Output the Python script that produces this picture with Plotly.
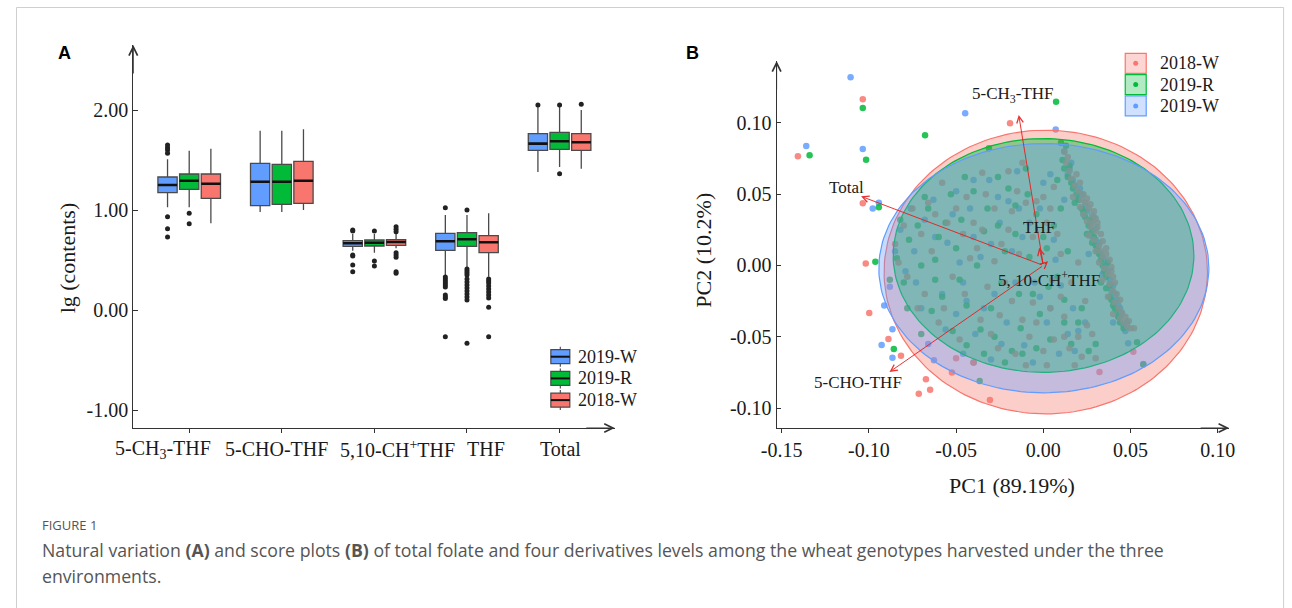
import numpy as np
import plotly.graph_objects as go

W, H = 1292, 608

# ---------------- Panel A data (lg contents) ----------------
categories = ["5-CH3-THF", "5-CHO-THF", "5,10-CH+THF", "THF", "Total"]
cat_labels = ["5-CH<sub>3</sub>-THF", "5-CHO-THF", "5,10-CH<sup>+</sup>THF", "THF", "Total"]

w19_q1 = [1.173, 1.043, 0.637, 0.597, 1.597]
w19_med = [1.250, 1.283, 0.667, 0.687, 1.664]
w19_q3 = [1.330, 1.467, 0.693, 0.767, 1.764]
w19_lo = [1.027, 0.980, 0.593, 0.350, 1.380]
w19_hi = [1.507, 1.793, 0.760, 0.950, 2.030]
w19_out = [[1.650, 1.623, 1.600, 1.567, 0.933, 0.813, 0.730], [],
           [0.800, 0.790, 0.550, 0.540, 0.450, 0.383],
           [1.023, 0.330, 0.310, 0.290, 0.270, 0.250, 0.230, 0.150, 0.130, 0.115, -0.267],
           [2.050]]

r19_q1 = [1.207, 1.057, 0.640, 0.637, 1.607]
r19_med = [1.293, 1.283, 0.673, 0.707, 1.687]
r19_q3 = [1.360, 1.457, 0.700, 0.773, 1.777]
r19_lo = [1.027, 0.980, 0.573, 0.427, 1.430]
r19_hi = [1.593, 1.793, 0.760, 0.950, 2.030]
r19_out = [[0.967, 0.863], [], [0.790, 0.490, 0.440],
           [1.000, 0.410, 0.390, 0.370, 0.350, 0.310, 0.280, 0.250, 0.220, 0.190, 0.160, 0.130, 0.100, -0.333],
           [2.050, 1.363]]

w18_q1 = [1.117, 1.067, 0.647, 0.573, 1.597]
w18_med = [1.263, 1.293, 0.680, 0.677, 1.677]
w18_q3 = [1.360, 1.487, 0.703, 0.743, 1.764]
w18_lo = [0.867, 1.000, 0.617, 0.333, 1.413]
w18_hi = [1.613, 1.807, 0.760, 0.967, 2.000]
w18_out = [[], [], [0.833, 0.807, 0.783, 0.573, 0.550, 0.527, 0.383, 0.367],
           [0.310, 0.290, 0.270, 0.240, 0.210, 0.180, 0.150, 0.120, 0.027, -0.267],
           [2.058]]

# ---------------- Panel B data (PCA scores) ----------------
pts_2018W = [(-0.1035, 0.1165), (-0.1407, 0.0766), (-0.1035, 0.0436), (-0.0191, 0.0997), (-0.1018, 0.0014),
             (-0.0998, -0.0334), (-0.0888, -0.0516), (-0.0816, -0.0634), (-0.0673, -0.0798), (-0.0649, -0.0871),
             (-0.0714, -0.0900), (-0.0306, -0.0944), (-0.0524, -0.0751), (0.0322, -0.0747), (0.0516, -0.0605),
             (-0.080, 0.028), (-0.083, 0.002), (-0.078, -0.008), (-0.070, 0.022), (-0.066, 0.044), (-0.062, 0.036),
             (-0.058, 0.058), (-0.055, 0.030), (-0.052, -0.008), (-0.048, -0.052), (-0.046, 0.022), (-0.044, 0.048),
             (-0.040, 0.030), (-0.040, -0.068), (-0.038, 0.012), (-0.036, -0.038), (-0.033, 0.050), (-0.030, -0.048),
             (-0.028, 0.003), (-0.026, -0.058), (-0.024, 0.015), (-0.022, -0.012), (-0.020, 0.066), (-0.018, 0.038),
             (-0.016, -0.062), (-0.015, 0.052), (-0.012, -0.038), (-0.010, 0.044), (-0.008, -0.050), (-0.006, -0.026),
             (-0.004, 0.045), (0.000, 0.048), (0.000, -0.060), (0.002, -0.070), (0.004, 0.040), (0.005, -0.010),
             (0.006, -0.052), (0.008, 0.022), (0.010, -0.022), (0.012, -0.036), (0.015, -0.058), (0.016, -0.012),
             (0.020, -0.050), (0.022, -0.064), (0.025, -0.042), (-0.060, -0.040), (-0.068, -0.020), (-0.012, 0.072),
             (-0.085, 0.015), (-0.075, 0.040), (-0.072, -0.030), (-0.064, 0.010), (-0.057, -0.030), (-0.050, 0.040),
             (-0.045, -0.020), (-0.042, 0.005), (-0.035, 0.025), (-0.032, -0.015), (-0.028, 0.040), (-0.025, -0.035),
             (-0.020, 0.025), (-0.018, -0.025), (-0.014, 0.008), (-0.010, -0.070), (-0.006, 0.020), (-0.004, -0.040),
             (0.002, 0.030), (0.004, -0.030), (0.006, 0.055), (0.010, 0.008), (0.012, -0.050), (0.018, -0.070),
             (0.020, 0.002), (0.024, -0.025), (0.028, -0.048), (0.030, -0.065), (-0.035, 0.065), (-0.050, -0.065),
             (0.013, 0.072), (0.015, 0.066), (0.016, 0.061), (0.018, 0.056), (0.020, 0.052), (0.017, 0.048),
             (0.022, 0.046), (0.024, 0.044), (0.021, 0.041), (0.026, 0.040), (0.023, 0.036), (0.028, 0.035),
             (0.025, 0.031), (0.027, 0.027), (0.030, 0.024), (0.026, 0.021), (0.029, 0.018), (0.032, 0.014),
             (0.030, 0.010), (0.034, 0.006), (0.032, 0.002), (0.035, -0.002), (0.037, -0.006), (0.034, -0.010),
             (0.038, -0.013), (0.040, -0.018), (0.037, -0.022), (0.041, -0.026), (0.043, -0.030), (0.040, -0.034),
             (0.044, -0.037), (0.046, -0.040), (0.048, -0.043), (0.050, -0.044), (0.036, 0.012), (0.031, 0.030),
             (0.039, -0.004), (0.012, 0.080), (0.014, 0.076), (0.019, 0.064), (0.021, 0.058), (0.023, 0.050),
             (0.025, 0.047), (0.027, 0.043), (0.029, 0.038), (0.030, 0.033), (0.031, 0.027), (0.033, 0.022),
             (0.034, 0.017), (0.036, 0.008), (0.038, 0.004), (0.039, -0.001), (0.040, -0.008), (0.041, -0.012),
             (0.042, -0.020), (0.044, -0.024), (0.045, -0.033), (0.047, -0.036), (0.049, -0.039), (0.052, -0.044),
             (0.028, 0.030), (0.033, 0.010)]

pts_2019R = [(-0.1035, 0.1105), (-0.1340, 0.0773), (-0.1016, 0.0742), (-0.0678, 0.0913), (0.0073, 0.1149),
             (-0.0943, 0.0408), (-0.0963, 0.0026), (-0.0857, -0.0586), (-0.0365, -0.0810), (0.0537, -0.0539),
             (0.0573, -0.0695), (0.0101, 0.0861), (-0.0312, 0.0822),
             (-0.088, -0.010), (-0.080, -0.012), (-0.077, 0.018), (-0.072, 0.028), (-0.066, 0.040), (-0.062, 0.004),
             (-0.058, -0.022), (-0.053, 0.050), (-0.050, 0.012), (-0.047, 0.032), (-0.044, -0.028), (-0.040, 0.052),
             (-0.036, -0.045), (-0.034, 0.024), (-0.030, -0.030), (-0.026, 0.062), (-0.024, -0.012), (-0.020, 0.054),
             (-0.018, -0.060), (-0.016, 0.022), (-0.013, -0.044), (-0.010, 0.068), (-0.008, 0.006), (-0.006, -0.020),
             (-0.004, 0.036), (-0.002, -0.034), (0.002, 0.012), (0.004, -0.052), (0.006, 0.028), (0.008, -0.008),
             (0.010, 0.040), (0.012, -0.024), (0.014, 0.010), (-0.052, -0.046), (-0.044, -0.056), (-0.034, -0.062),
             (-0.022, -0.068), (-0.012, -0.062), (-0.064, -0.032), (-0.070, -0.048), (0.020, -0.040), (0.026, -0.060),
             (0.030, -0.055), (-0.082, 0.032), (-0.060, 0.020),
             (-0.084, 0.005), (-0.078, -0.030), (-0.070, 0.000), (-0.068, 0.048), (-0.062, -0.010), (-0.056, 0.030),
             (-0.048, -0.010), (-0.045, 0.062), (-0.038, 0.000), (-0.032, 0.040), (-0.028, -0.050), (-0.022, 0.010),
             (-0.016, 0.042), (-0.014, -0.020), (-0.009, 0.050), (-0.004, -0.058), (0.000, 0.020), (0.003, -0.015),
             (0.008, 0.060), (0.012, -0.040), (0.016, -0.055), (0.022, -0.030), (-0.040, -0.068), (-0.026, 0.028),
             (0.011, 0.074), (0.012, 0.068), (0.014, 0.062), (0.016, 0.058), (0.019, 0.050), (0.018, 0.044),
             (0.022, 0.040), (0.024, 0.034), (0.026, 0.028), (0.025, 0.022), (0.028, 0.016), (0.031, 0.010),
             (0.033, 0.004), (0.035, -0.004), (0.033, -0.012), (0.036, -0.016), (0.038, -0.022), (0.040, -0.028),
             (0.042, -0.032), (0.044, -0.040), (0.029, 0.020), (0.037, 0.002),
             (0.013, 0.084), (0.015, 0.070), (0.017, 0.054), (0.020, 0.046), (0.023, 0.038), (0.027, 0.032),
             (0.028, 0.024), (0.030, 0.014), (0.032, 0.008), (0.034, 0.000), (0.036, -0.008), (0.038, -0.014),
             (0.039, -0.024), (0.041, -0.030), (0.043, -0.036), (0.046, -0.044)]

pts_2019W = [(-0.1105, 0.1320), (-0.1359, 0.0838), (-0.1035, 0.0817), (-0.0448, 0.1067), (0.0071, 0.0954),
             (-0.0943, 0.0440), (-0.0978, 0.0400), (-0.0912, -0.0280), (-0.0865, -0.0447), (-0.0927, -0.0558),
             (-0.0865, -0.0648), (-0.0627, -0.0664), (0.0486, -0.0546), (0.0573, -0.0692),
             (-0.085, 0.010), (-0.079, -0.004), (-0.073, -0.012), (-0.068, 0.032), (-0.063, 0.046), (-0.058, -0.020),
             (-0.055, 0.016), (-0.050, -0.034), (-0.046, -0.012), (-0.042, 0.040), (-0.039, -0.048), (-0.036, 0.006),
             (-0.031, 0.060), (-0.028, -0.020), (-0.025, 0.030), (-0.021, -0.040), (-0.018, 0.010), (-0.015, 0.066),
             (-0.011, -0.056), (-0.008, 0.030), (-0.005, -0.012), (0.000, 0.058), (0.002, -0.040), (0.007, 0.004),
             (0.009, -0.062), (0.012, 0.046), (0.017, -0.030), (0.020, -0.046), (-0.066, -0.055), (-0.046, -0.062),
             (-0.030, -0.066), (-0.014, 0.040), (0.004, 0.064), (-0.040, 0.020), (-0.074, 0.010), (-0.052, 0.036),
             (-0.002, -0.022), (0.010, -0.014),
             (-0.088, -0.015), (-0.082, 0.025), (-0.076, 0.040), (-0.070, -0.030), (-0.062, 0.020), (-0.056, -0.045),
             (-0.050, 0.052), (-0.044, -0.025), (-0.040, 0.060), (-0.034, -0.030), (-0.030, 0.015), (-0.024, -0.055),
             (-0.020, 0.045), (-0.016, -0.012), (-0.012, 0.020), (-0.006, -0.068), (-0.002, 0.040), (0.004, -0.030),
             (0.006, 0.018), (0.014, -0.048), (0.018, -0.060), (0.024, -0.040), (-0.026, 0.048), (-0.048, 0.002),
             (0.016, 0.072), (0.014, 0.064), (0.017, 0.060), (0.021, 0.054), (0.020, 0.046), (0.024, 0.042),
             (0.023, 0.036), (0.027, 0.030), (0.030, 0.026), (0.028, 0.020), (0.031, 0.012), (0.033, 0.008),
             (0.036, 0.000), (0.034, -0.006), (0.038, -0.010), (0.039, -0.018), (0.042, -0.024), (0.044, -0.030),
             (0.043, -0.036), (0.046, -0.042), (0.040, -0.040), (0.026, 0.008),
             (0.012, 0.080), (0.015, 0.068), (0.018, 0.056), (0.022, 0.050), (0.025, 0.038), (0.029, 0.034),
             (0.030, 0.018), (0.032, 0.016), (0.035, 0.004), (0.037, -0.004), (0.040, -0.014), (0.041, -0.020),
             (0.043, -0.028), (0.045, -0.034), (0.048, -0.040), (0.047, -0.046)]

# confidence ellipses: centre x, centre y, semi-axis x, semi-axis y, fill alpha (draw order)
ell_names = ["2018-W", "2019-R", "2019-W"]
ell_cx = [0.0014, 0.0001, 0.0003]
ell_cy = [-0.0046, 0.0070, -0.0019]
ell_a = [0.0927, 0.0862, 0.0946]
ell_b = [0.0995, 0.0820, 0.0874]
ell_alpha = [0.36, 0.42, 0.36]

# loading vectors
load_names = ["5-CH<sub>3</sub>-THF", "Total", "5-CHO-THF", "THF", "5, 10-CH<sup>+</sup>THF"]
load_x = [-0.0141, -0.1045, -0.0882, -0.0024, 0.0027]
load_y = [0.1055, 0.0485, -0.0747, 0.0125, 0.0030]
load_lx = [-0.0175, -0.1130, -0.1061, -0.0023, 0.0035]
load_ly = [0.1196, 0.0544, -0.0822, 0.0263, -0.0098]

COL = {"2019-W": "#619CFF", "2019-R": "#00BA38", "2018-W": "#F8766D"}


def rgba(h, a):
    h = h.lstrip("#")
    return "rgba(%d,%d,%d,%.3f)" % (int(h[0:2], 16), int(h[2:4], 16), int(h[4:6], 16), a)


# screen-pixel -> paper coordinates (horizontal correction measured from the rendered page)
SX, OX = 0.984, 15.6


def PX(x):
    return ((x - OX) / SX) / W


def PY(y):
    return 1 - y / H


SERIF = "Liberation Serif, Times New Roman, serif"
TXT = "#1a1a1a"
fig = go.Figure()

# ---------------- Panel A ----------------
offsets = [-0.234, 0.0, 0.234]
bw = 0.208
series = [("2019-W", w19_q1, w19_med, w19_q3, w19_lo, w19_hi, w19_out),
          ("2019-R", r19_q1, r19_med, r19_q3, r19_lo, r19_hi, r19_out),
          ("2018-W", w18_q1, w18_med, w18_q3, w18_lo, w18_hi, w18_out)]
for k, (name, q1, med, q3, lo, hi, outl) in enumerate(series):
    xs = [i + offsets[k] for i in range(len(categories))]
    fig.add_trace(go.Box(x=xs, q1=q1, median=med, q3=q3, lowerfence=lo, upperfence=hi,
                         name=name, fillcolor=COL[name], line=dict(color="#4a4a4a", width=1.3),
                         width=bw, whiskerwidth=0, boxpoints=False, xaxis="x", yaxis="y",
                         showlegend=False, hoverinfo="skip"))
for k, (name, q1, med, q3, lo, hi, outl) in enumerate(series):
    mx, my = [], []
    for i, m in enumerate(med):
        c = i + offsets[k]
        mx += [c - bw / 2, c + bw / 2, None]
        my += [m, m, None]
    fig.add_trace(go.Scatter(x=mx, y=my, mode="lines", line=dict(color="#111111", width=2.6),
                             showlegend=False, xaxis="x", yaxis="y", hoverinfo="skip"))
    ox, oy = [], []
    for i, vals in enumerate(outl):
        for v in vals:
            ox.append(i + offsets[k])
            oy.append(v)
    fig.add_trace(go.Scatter(x=ox, y=oy, mode="markers", marker=dict(color="#222222", size=5),
                             showlegend=False, xaxis="x", yaxis="y", hoverinfo="skip"))

# ---------------- Panel B ----------------
for name, pts in [("2019-W", pts_2019W), ("2019-R", pts_2019R), ("2018-W", pts_2018W)]:
    fig.add_trace(go.Scatter(x=[p[0] for p in pts], y=[p[1] for p in pts], mode="markers",
                             marker=dict(color=COL[name], size=6.5, opacity=0.85),
                             showlegend=False, xaxis="x2", yaxis="y2", hoverinfo="skip"))
theta = np.linspace(0, 2 * np.pi, 181)
for name, cx, cy, a, b, al in zip(ell_names, ell_cx, ell_cy, ell_a, ell_b, ell_alpha):
    fig.add_trace(go.Scatter(x=cx + a * np.cos(theta), y=cy + b * np.sin(theta), mode="lines",
                             fill="toself", fillcolor=rgba(COL[name], al),
                             line=dict(color=COL[name], width=1.2),
                             showlegend=False, xaxis="x2", yaxis="y2", hoverinfo="skip"))

annotations = []
shapes = []


def note(x, y, text, size, **kw):
    d = dict(x=PX(x), y=PY(y), xref="paper", yref="paper", text=text, showarrow=False,
             xanchor="center", yanchor="middle", font=dict(family=SERIF, size=size, color=TXT))
    d.update(kw)
    annotations.append(d)


# loading arrows
for nm, x, y, lx, ly in zip(load_names, load_x, load_y, load_lx, load_ly):
    annotations.append(dict(x=x, y=y, ax=0, ay=0, xref="x2", yref="y2", axref="x2", ayref="y2",
                            text="", showarrow=True, arrowhead=5, arrowsize=1.3, arrowwidth=1,
                            arrowcolor="rgba(230,30,30,0.9)"))
    annotations.append(dict(x=lx, y=ly, xref="x2", yref="y2", text=nm, showarrow=False,
                            xanchor="center", yanchor="middle",
                            font=dict(family=SERIF, size=17, color=TXT)))

# axis arrowheads
for (x, y, ax, ay) in [(133, 45, 0, 30), (615, 428, -30, 0), (777, 61, 0, 30), (1230, 428, -30, 0)]:
    annotations.append(dict(x=PX(x), y=PY(y), xref="paper", yref="paper", ax=ax, ay=ay,
                            text="", showarrow=True, arrowhead=5, arrowsize=1.7, arrowwidth=1,
                            arrowcolor="#333333"))

# category labels for panel A
for lab, cxp in zip(cat_labels, [163, 276, 397, 486, 561]):
    note(cxp, 449, lab, 20)

# axis titles, panel letters, caption
note(67, 258, "lg (contents)", 22, textangle=-90)
note(704, 250, "PC2 (10.2%)", 22, textangle=-90)
note(1013, 485, "PC1 (89.19%)", 22)
note(64, 53, "<b>A</b>", 18, font=dict(family="Liberation Sans, Arial", size=18, color="#000"))
note(693, 53, "<b>B</b>", 18, font=dict(family="Liberation Sans, Arial", size=18, color="#000"))
note(40, 525, "FIGURE 1", 13, xanchor="left", font=dict(family="Open Sans", size=13, color="#555"))
note(40, 550, "Natural variation <b>(A)</b> and score plots <b>(B)</b> of total folate and four derivatives "
              "levels among the wheat genotypes harvested under the three", 17.7, xanchor="left",
     font=dict(family="Open Sans", size=17.7, color="#555"))
note(40, 576, "environments.", 17.7, xanchor="left", font=dict(family="Open Sans", size=17.7, color="#555"))

# legend of panel A (box icons)
for i, name in enumerate(["2019-W", "2019-R", "2018-W"]):
    yc = 356.7 + 21.7 * i
    shapes.append(dict(type="line", xref="paper", yref="paper", x0=PX(560.5), x1=PX(560.5),
                       y0=PY(yc - 10), y1=PY(yc + 10), line=dict(color="#555", width=1.2)))
    shapes.append(dict(type="rect", xref="paper", yref="paper", x0=PX(551), x1=PX(570),
                       y0=PY(yc - 7), y1=PY(yc + 7), fillcolor=COL[name],
                       line=dict(color="#4a4a4a", width=1.2)))
    shapes.append(dict(type="line", xref="paper", yref="paper", x0=PX(551), x1=PX(570),
                       y0=PY(yc), y1=PY(yc), line=dict(color="#111", width=2)))
    note(576, yc, name, 18, xanchor="left")

# legend of panel B
for i, name in enumerate(["2018-W", "2019-R", "2019-W"]):
    y0 = 53.3 + 21.3 * i
    shapes.append(dict(type="rect", xref="paper", yref="paper", x0=PX(1126), x1=PX(1147),
                       y0=PY(y0), y1=PY(y0 + 20), fillcolor=rgba(COL[name], 0.3),
                       line=dict(color=COL[name], width=1.2)))
    shapes.append(dict(type="circle", xref="paper", yref="paper", x0=PX(1134), x1=PX(1139),
                       y0=PY(y0 + 7.5), y1=PY(y0 + 12.5), fillcolor=COL[name],
                       line=dict(width=0)))
    note(1159, y0 + 10, name, 18, xanchor="left")

# outer frame
shapes.append(dict(type="rect", xref="paper", yref="paper", x0=0.0004, x1=PX(1284.5), y0=PY(640), y1=PY(7.5),
                   line=dict(color="#cfcfcf", width=1), fillcolor="rgba(0,0,0,0)", layer="below"))

axis_common = dict(showline=True, linecolor="#333333", linewidth=1, showgrid=False, zeroline=False,
                   tickcolor="#333333", tickfont=dict(family=SERIF, size=20, color=TXT))

fig.update_layout(
    width=W, height=H, margin=dict(l=0, r=0, t=0, b=0),
    paper_bgcolor="white", plot_bgcolor="rgba(0,0,0,0)",
    boxmode="overlay", showlegend=False,
    xaxis=dict(domain=[PX(133), PX(615)], range=[-0.604, 4.596], anchor="y",
               tickvals=list(range(len(categories))), ticktext=[""] * len(categories),
               ticks="outside", ticklen=4, **axis_common),
    yaxis=dict(domain=[PY(428), PY(45)], range=[-1.18, 2.65], anchor="x",
               tickvals=[-1, 0, 1, 2], ticktext=["-1.00", "0.00", "1.00", "2.00"],
               ticks="inside", ticklen=5, **axis_common),
    xaxis2=dict(domain=[PX(777), PX(1230)], range=[-0.1529, 0.1065], anchor="y2",
                tickvals=[-0.15, -0.10, -0.05, 0, 0.05, 0.10],
                ticktext=["-0.15", "-0.10", "-0.05", "0.00", "0.05", "0.10"],
                ticks="outside", ticklen=4, **axis_common),
    yaxis2=dict(domain=[PY(428), PY(61)], range=[-0.1140, 0.1434], anchor="x2",
                tickvals=[-0.10, -0.05, 0, 0.05, 0.10],
                ticktext=["-0.10", "-0.05", "0.00", "0.05", "0.10"],
                ticks="inside", ticklen=4, **axis_common),
    annotations=annotations, shapes=shapes,
)

fig.write_html("out.html", config={"displayModeBar": False},
               post_script="document.body.style.margin='0px';")
